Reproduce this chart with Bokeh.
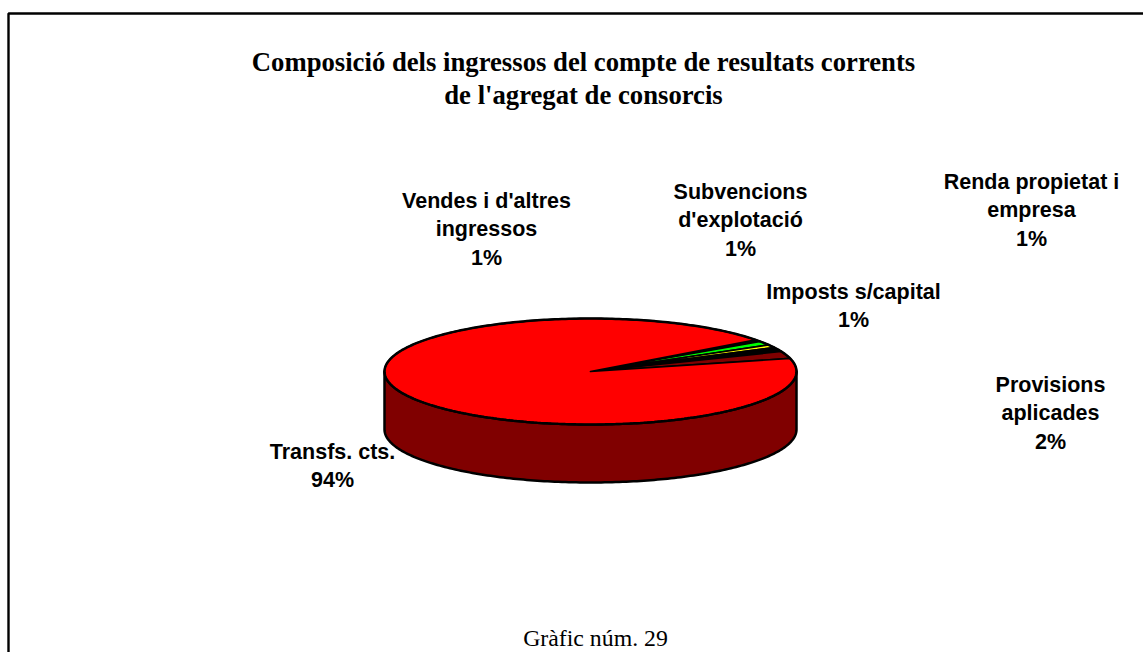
import numpy as np
from bokeh.plotting import figure
from bokeh.models import Range1d
from bokeh.core.properties import value
from bokeh.embed import file_html
from bokeh.resources import INLINE

# data
categories = ["Vendes i d'altres\ningressos", "Subvencions\nd'explotació", "Renda propietat i\nempresa",
              "Imposts s/capital", "Provisions\naplicades", "Transfs. cts."]
shares = [0.6, 1.2, 0.9, 1.3, 2.2, 93.8]
pct_labels = ["1%", "1%", "1%", "1%", "2%", "94%"]
title_lines = ["Composició dels ingressos del compte de resultats corrents", "de l'agregat de consorcis"]
caption = "Gràfic núm. 29"

# style / layout
colors = ["#000000", "#00ff00", "#ffff00", "#000000", "#800000", "#ff0000"]
side_color = "#800000"
label_x = [486, 740, 1031, 853, 1050, 332]
label_top = [200, 191, 181, 291, 384, 451]
LH = 28.6
CX, CY, RX, RY, DEPTH = 590, 371, 206, 53, 58
START_DEG = 36.6

p = figure(width=1143, height=652, output_backend="svg", toolbar_location=None,
           x_range=Range1d(0, 1143), y_range=Range1d(652, 0), x_axis_type=None, y_axis_type=None,
           min_border=0, outline_line_color=None)
p.grid.visible = False

# frame
p.line([8, 8, 1143], [652, 13, 13], line_color="black", line_width=2.4)

# side wall
t = np.radians(np.linspace(0, -180, 181))
xs = CX + RX * np.cos(t)
ytop = CY - RY * np.sin(t)
p.patch(np.r_[xs, xs[::-1]], np.r_[ytop, ytop[::-1] + DEPTH], fill_color=side_color,
        line_color="black", line_width=2.5, line_join="round")

# top slices
edges = START_DEG - np.cumsum([0] + shares) * 3.6
for a0, a1, c in zip(edges[:-1], edges[1:], colors):
    th = np.radians(np.linspace(a0, a1, max(3, int(abs(a0 - a1)) + 2)))
    p.patch(np.r_[CX, CX + RX * np.cos(th)], np.r_[CY, CY - RY * np.sin(th)], fill_color=c,
            line_color="black", line_width=1.7, line_join="round")

# rim of the top face
rim = np.radians(np.linspace(0, 360, 361))
p.line(CX + RX * np.cos(rim), CY - RY * np.sin(rim), line_color="black", line_width=2.5)

# texts
serif = value("Liberation Serif")
sans = value("Liberation Sans")
p.text([583, 583], [61.5, 94.5], text=title_lines, text_font=serif, text_font_size="26.7px", text_font_style="bold",
       text_align="center", text_baseline="middle", text_color="black")
p.text([595], [637], text=[caption], text_font=serif, text_font_size="23.8px",
       text_align="center", text_baseline="middle", text_color="black")
for c, pc, x, y in zip(categories, pct_labels, label_x, label_top):
    for i, line in enumerate(c.split("\n") + [pc]):
        p.text([x], [y + i * LH], text=[line], text_font=sans, text_font_size="21.5px", text_font_style="bold",
               text_align="center", text_baseline="middle", text_color="black")

open("out.html", "w").write(file_html(p, INLINE))
